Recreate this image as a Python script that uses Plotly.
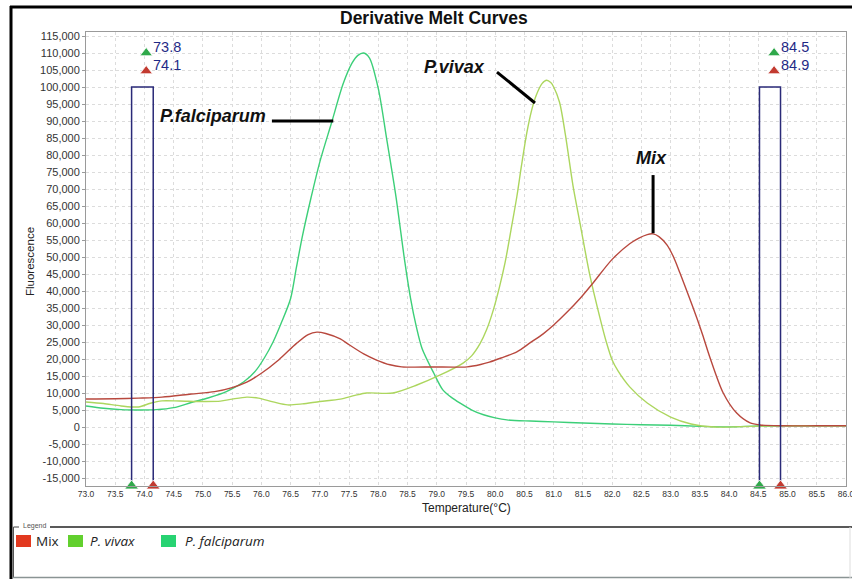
import plotly.graph_objects as go

# ---------------- data ----------------
series_names = ["Mix", "P. vivax", "P. falciparum"]

falc_T = [73.0, 73.3, 73.6, 73.9, 74.2, 74.5, 74.8, 75.1, 75.4, 75.7, 75.9, 76.05, 76.2, 76.35,
          76.5, 76.6, 76.7, 76.85, 77.0, 77.2, 77.4, 77.55, 77.65, 77.75, 77.85, 78.0, 78.15,
          78.3, 78.45, 78.55, 78.65, 78.75, 78.95, 79.1, 79.25, 79.4, 79.6, 79.8, 80.0, 80.2,
          80.6, 81.0, 81.5, 82.0, 82.5, 83.0, 83.5, 84.0, 84.5, 85.0, 85.5, 86.0]
falc_F = [6200, 5500, 5100, 5000, 5100, 5700, 7200, 8600, 10400, 13300, 16500, 20300, 25000, 31000,
          37800, 47000, 56000, 67500, 78000, 89500, 101000, 107000, 109300, 110000, 108500, 99500,
          84000, 68000, 49000, 38000, 29500, 23000, 15800, 11000, 8700, 7000, 5000, 3600, 2700,
          2100, 1750, 1500, 1200, 900, 650, 500, 200, 50, 300, 350, 350, 350]

vivax_T = [73.0, 73.3, 73.6, 73.9, 74.1, 74.3, 74.6, 75.0, 75.3, 75.5, 75.75, 75.95, 76.2,
           76.45, 76.7, 77.0, 77.35, 77.6, 77.8, 78.25, 78.66, 79.06, 79.45, 79.6, 79.74, 79.85,
           79.96, 80.07, 80.17, 80.27, 80.37, 80.45, 80.54, 80.62, 80.7, 80.8, 80.88, 80.95,
           81.0, 81.1, 81.2, 81.33, 81.45, 81.62, 81.8, 81.9, 82.0, 82.1, 82.3, 82.6, 83.0,
           83.35, 83.75, 84.2, 84.6, 85.0, 86.0]
vivax_F = [7350, 6900, 6200, 5900, 7000, 7700, 7650, 7500, 7600, 8200, 8800, 8500, 7400,
           6500, 6800, 7500, 8200, 9300, 10000, 10000, 12350, 15300, 18800, 21000, 24500, 28500,
           34000, 41000, 48500, 58000, 67800, 77000, 86500, 93000, 97500, 101000, 102000, 101300,
           100000, 95500, 86000, 71000, 60000, 44500, 31500, 25000, 19700, 16500, 11800, 7060, 2900,
           900, 0, 100, 300, 350, 350]

mix_T = [73.0, 73.5, 73.9, 74.3, 74.8, 75.2, 75.5, 75.75, 76.0, 76.3, 76.6, 76.8, 76.95,
         77.1, 77.35, 77.5, 77.75, 77.97, 78.2, 78.4, 78.94, 79.52, 79.75, 79.9, 80.1,
         80.37, 80.6, 80.82, 81.0, 81.23, 81.45, 81.67, 82.0, 82.3, 82.45, 82.6, 82.7, 82.8,
         82.94, 83.05, 83.16, 83.3, 83.45, 83.55, 83.67, 83.9, 84.13, 84.36, 84.53, 84.9,
         85.5, 86.0]
mix_F = [8240, 8300, 8500, 8800, 9700, 10400, 11600, 13200, 15800, 19800, 24600, 27200, 27900,
         27500, 25900, 24200, 21500, 19700, 18300, 17700, 17650, 17700, 18400, 19100, 20300,
         22100, 24800, 27400, 30000, 33800, 37800, 42300, 49300, 53900, 55500, 56600, 56800, 56000,
         53500, 50000, 45300, 39000, 32000, 27000, 20600, 10000, 4100, 1200, 600, 350,
         350, 350]

# melt-peak cursors (temperature limits of the two regions)
cursor_left = [73.78, 74.15]
cursor_right = [84.52, 84.88]
cursor_top = 100000
cursor_labels_left = ["73.8", "74.1"]
cursor_labels_right = ["84.5", "84.9"]
cursor_marker_T = [74.03, 84.77]
cursor_marker_F = [110000, 104700]

x_tickvals = [73.0, 73.5, 74.0, 74.5, 75.0, 75.5, 76.0, 76.5, 77.0, 77.5, 78.0, 78.5, 79.0,
              79.5, 80.0, 80.5, 81.0, 81.5, 82.0, 82.5, 83.0, 83.5, 84.0, 84.5, 85.0, 85.5, 86.0]
x_ticktext = ["73.0", "73.5", "74.0", "74.5", "75.0", "75.5", "76.0", "76.5", "77.0", "77.5",
              "78.0", "78.5", "79.0", "79.5", "80.0", "80.5", "81.0", "81.5", "82.0", "82.5",
              "83.0", "83.5", "84.0", "84.5", "85.0", "85.5", "86.0"]
y_tickvals = [-15000, -10000, -5000, 0, 5000, 10000, 15000, 20000, 25000, 30000, 35000, 40000,
              45000, 50000, 55000, 60000, 65000, 70000, 75000, 80000, 85000, 90000, 95000,
              100000, 105000, 110000, 115000]
y_ticktext = ["-15,000", "-10,000", "-5,000", "0", "5,000", "10,000", "15,000", "20,000",
              "25,000", "30,000", "35,000", "40,000", "45,000", "50,000", "55,000", "60,000",
              "65,000", "70,000", "75,000", "80,000", "85,000", "90,000", "95,000", "100,000",
              "105,000", "110,000", "115,000"]

X_RANGE = [73.0, 86.0]
Y_RANGE = [-17350, 116180]

# ---------------- styles ----------------
line_colors = {"Mix": "#b8483e", "P. vivax": "#acd65e", "P. falciparum": "#3ccf78"}
legend_colors = {"Mix": "#e2391f", "P. vivax": "#62d02e", "P. falciparum": "#27d372"}
NAVY = "#2a2a78"
LABEL_NAVY = "#1f2a86"
TICKFONT = "Liberation Sans, Arial, sans-serif"

fig = go.Figure()

# curves
for name, T, F in [("P. falciparum", falc_T, falc_F),
                   ("P. vivax", vivax_T, vivax_F),
                   ("Mix", mix_T, mix_F)]:
    fig.add_trace(go.Scatter(x=T, y=F, mode="lines", name=name,
                             line=dict(color=line_colors[name], width=1.4,
                                       shape="spline", smoothing=0.8),
                             showlegend=False, hoverinfo="x+y+name"))

# cursor rectangles
y_floor = Y_RANGE[0]
for pair in (cursor_left, cursor_right):
    fig.add_trace(go.Scatter(x=[pair[0], pair[0], pair[1], pair[1]],
                             y=[y_floor, cursor_top, cursor_top, y_floor],
                             mode="lines", line=dict(color=NAVY, width=1.5),
                             showlegend=False, hoverinfo="skip", cliponaxis=False))

# cursor top triangles
tri_colors = ["#2fa84a", "#c23a30"]
for Tm in cursor_marker_T:
    fig.add_trace(go.Scatter(x=[Tm, Tm], y=cursor_marker_F, mode="markers",
                             marker=dict(symbol="triangle-up", size=11, color=tri_colors,
                                         line=dict(color="#ffffff", width=0.8)),
                             showlegend=False, hoverinfo="skip", cliponaxis=False))

# cursor bottom triangles
for pair in (cursor_left, cursor_right):
    fig.add_trace(go.Scatter(x=pair, y=[y_floor, y_floor], mode="markers",
                             marker=dict(symbol="triangle-up", size=12, color=tri_colors,
                                         line=dict(color="#ffffff", width=0.8)),
                             showlegend=False, hoverinfo="skip", cliponaxis=False))

annotations = []
# cursor value labels
for Tm, labels in zip(cursor_marker_T, [cursor_labels_left, cursor_labels_right]):
    for yv, lab in zip(cursor_marker_F, labels):
        annotations.append(dict(x=Tm, y=yv, xref="x", yref="y", text=lab, showarrow=False,
                                xanchor="left", yanchor="bottom", xshift=5, yshift=-4,
                                font=dict(family="Liberation Sans, Arial", size=14.5,
                                          color=LABEL_NAVY)))

# species labels
ann_font = dict(family="Liberation Sans, Arial", size=18, color="#111111")
annotations.append(dict(x=76.11, y=91500, xref="x", yref="y",
                        text="<b><i>P.falciparum</i></b>", showarrow=False,
                        xanchor="right", yanchor="middle", font=ann_font))
annotations.append(dict(x=79.86, y=106000, xref="x", yref="y",
                        text="<b><i>P.vivax</i></b>", showarrow=False,
                        xanchor="right", yanchor="middle", font=ann_font))
annotations.append(dict(x=82.68, y=79200, xref="x", yref="y",
                        text="<b><i>Mix</i></b>", showarrow=False,
                        xanchor="center", yanchor="middle", font=ann_font))

shapes = [
    dict(type="line", xref="x", yref="y", x0=76.18, y0=90000, x1=77.23, y1=90000,
         line=dict(color="#000000", width=3)),
    dict(type="line", xref="x", yref="y", x0=80.03, y0=104400, x1=80.68, y1=95300,
         line=dict(color="#000000", width=3)),
    dict(type="line", xref="x", yref="y", x0=82.70, y0=74100, x1=82.70, y1=57000,
         line=dict(color="#000000", width=3)),
]

# ---- frame / legend box (paper coordinates based on plot area 86..846 x 32..486) ----
def px(xp):
    return (xp - 86) / 760.0

def py(yp):
    return (486 - yp) / 454.0

shapes += [
    dict(type="line", xref="paper", yref="paper", x0=px(10), y0=py(7), x1=px(860), y1=py(7),
         line=dict(color="#000000", width=3)),
    dict(type="line", xref="paper", yref="paper", x0=px(11), y0=py(6), x1=px(11), y1=py(590),
         line=dict(color="#000000", width=3)),
    # legend group box
    dict(type="line", xref="paper", yref="paper", x0=px(50), y0=py(527), x1=px(860), y1=py(527),
         line=dict(color="#222222", width=1.5)),
    dict(type="line", xref="paper", yref="paper", x0=px(13.5), y0=py(527), x1=px(19), y1=py(527),
         line=dict(color="#444444", width=1)),
    dict(type="line", xref="paper", yref="paper", x0=px(13.5), y0=py(527), x1=px(13.5), y1=py(578),
         line=dict(color="#555555", width=1)),
    dict(type="line", xref="paper", yref="paper", x0=px(13), y0=py(577.5), x1=px(860), y1=py(577.5),
         line=dict(color="#8a9494", width=1.5)),
    dict(type="line", xref="paper", yref="paper", x0=px(850), y0=py(527), x1=px(850), y1=py(578),
         line=dict(color="#dddddd", width=1)),
]

annotations.append(dict(x=px(21), y=py(526), xref="paper", yref="paper", text="Legend",
                        showarrow=False, xanchor="left", yanchor="middle",
                        font=dict(family="Liberation Sans, Arial", size=7, color="#555555")))

# legend entries
legend_x = [16, 68, 161]
legend_text_x = [34, 88, 183]
for name, lx, tx in zip(series_names, legend_x, legend_text_x):
    shapes.append(dict(type="rect", xref="paper", yref="paper", x0=px(lx), x1=px(lx + 15),
                       y0=py(547), y1=py(535), fillcolor=legend_colors[name],
                       line=dict(width=0)))
    txt = name if name == "Mix" else "<i>" + name + "</i>"
    annotations.append(dict(x=px(tx), y=py(541), xref="paper", yref="paper", text=txt,
                            showarrow=False, xanchor="left", yanchor="middle",
                            font=dict(family="Open Sans, Liberation Sans", size=13.5,
                                      color="#222222")))

# title and axis titles
annotations.append(dict(x=px(434), y=py(18), xref="paper", yref="paper",
                        text="<b>Derivative Melt Curves</b>", showarrow=False,
                        xanchor="center", yanchor="middle",
                        font=dict(family="Liberation Sans, Arial", size=17.5, color="#111111")))
annotations.append(dict(x=px(467), y=py(508), xref="paper", yref="paper",
                        text="Temperature(°C)", showarrow=False,
                        xanchor="center", yanchor="middle",
                        font=dict(family="Liberation Sans, Arial", size=12, color="#222222")))
annotations.append(dict(x=px(30), y=py(262), xref="paper", yref="paper",
                        text="Fluorescence", showarrow=False, textangle=-90,
                        xanchor="center", yanchor="middle",
                        font=dict(family="Liberation Sans, Arial", size=11.5, color="#222222")))

fig.update_layout(
    width=852, height=579,
    margin=dict(l=86, r=6, t=32, b=93),
    paper_bgcolor="#ffffff", plot_bgcolor="#ffffff",
    showlegend=False,
    annotations=annotations, shapes=shapes,
)
fig.update_xaxes(range=X_RANGE, tickvals=x_tickvals, ticktext=x_ticktext,
                 tickfont=dict(family=TICKFONT, size=8.5, color="#333333"),
                 ticklabeloverflow="allow",
                 showgrid=True, gridcolor="#dcdcdc", griddash="dot", gridwidth=1,
                 zeroline=False, showline=True, linecolor="#9a9a9a", linewidth=1, mirror=True,
                 ticks="", ticklen=0, automargin=False)
fig.update_yaxes(range=Y_RANGE, tickvals=y_tickvals, ticktext=y_ticktext,
                 tickfont=dict(family=TICKFONT, size=11, color="#333333"),
                 showgrid=True, gridcolor="#dcdcdc", griddash="dot", gridwidth=1,
                 zeroline=False, showline=True, linecolor="#9a9a9a", linewidth=1, mirror=True,
                 ticks="outside", ticklen=3, tickcolor="#9a9a9a", automargin=False)

fig.write_html("out.html", config={"displayModeBar": False},
               post_script="document.body.style.margin='0px';document.body.style.overflow='hidden';")
